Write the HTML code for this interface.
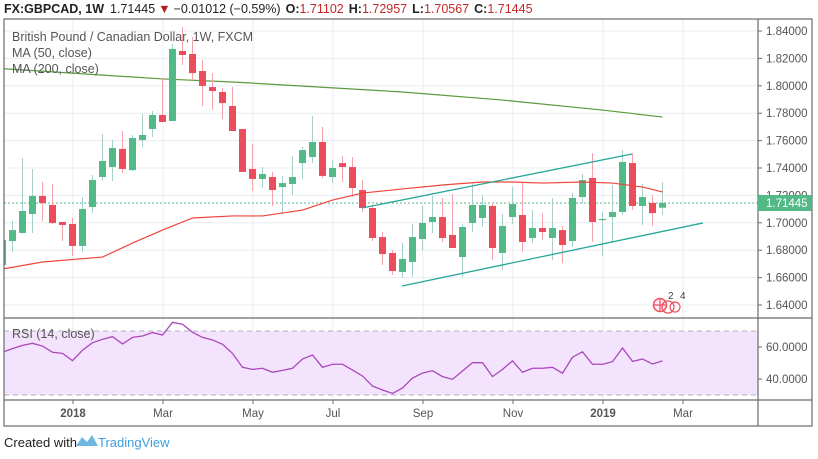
<!DOCTYPE html>
<html><head><meta charset="utf-8">
<style>
html,body{margin:0;padding:0;background:#fff;}
body{width:818px;height:454px;overflow:hidden;font-family:"Liberation Sans",sans-serif;}
svg text{font-family:"Liberation Sans",sans-serif;}
</style></head>
<body>
<svg id="chart" width="818" height="454" xmlns="http://www.w3.org/2000/svg">
  <defs>
    <clipPath id="paneClip"><rect x="4" y="19" width="754" height="299"/></clipPath>
    <clipPath id="rsiClip"><rect x="4" y="318" width="754" height="82"/></clipPath>
  </defs>
  <g id="grid"></g>
  <rect id="rsiBand" x="4" width="754" fill="#f3e3fd"/>
  <g id="rsiLevels"></g>
  <g id="mainMarks" clip-path="url(#paneClip)"></g>
  <g id="rsiMarks" clip-path="url(#rsiClip)"></g>
  <g id="frame">
    <rect x="4" y="19" width="808" height="407" fill="none" stroke="#6b6b6b" stroke-width="1.2"/>
    <line x1="758" y1="19" x2="758" y2="426" stroke="#6b6b6b" stroke-width="1.2"/>
    <line x1="4" y1="318" x2="812" y2="318" stroke="#6b6b6b" stroke-width="1.2"/>
    <line x1="4" y1="400" x2="812" y2="400" stroke="#6b6b6b" stroke-width="1.2"/>
  </g>
  <g id="axes"></g>
  <g>
    <text x="4" y="13" font-size="12.5" fill="#222"><tspan font-weight="bold">FX:GBPCAD, 1W</tspan><tspan dx="6">1.71445</tspan><tspan fill="#b71c1c" dx="3">▼</tspan><tspan dx="3">−0.01012 (−0.59%)</tspan><tspan dx="5" font-weight="bold">O:</tspan><tspan fill="#c62828">1.71102</tspan><tspan dx="5" font-weight="bold">H:</tspan><tspan fill="#c62828">1.72957</tspan><tspan dx="5" font-weight="bold">L:</tspan><tspan fill="#c62828">1.70567</tspan><tspan dx="5" font-weight="bold">C:</tspan><tspan fill="#c62828">1.71445</tspan></text>
  </g>
  <g font-size="12.5" fill="#555">
    <text x="12" y="41" fill="#555">British Pound / Canadian Dollar, 1W, FXCM</text>
    <text x="12" y="57">MA (50, close)</text>
    <text x="12" y="73">MA (200, close)</text>
    <text x="12" y="338">RSI (14, close)</text>
  </g>
  <g>
    <circle cx="660" cy="305" r="6.5" fill="#fde8ec" stroke="#ef5060" stroke-width="1.5"/>
    <circle cx="668" cy="307" r="6" fill="none" stroke="#ef5060" stroke-width="1.3"/>
    <circle cx="675" cy="307" r="5" fill="none" stroke="#ef5060" stroke-width="1.2"/>
    <line x1="654" y1="305" x2="666" y2="305" stroke="#ef5060" stroke-width="1.2"/>
    <line x1="660" y1="299" x2="660" y2="311" stroke="#ef5060" stroke-width="1.2"/>
    <text x="668" y="299" font-size="10" fill="#444">2</text>
    <text x="680" y="299" font-size="10" fill="#444">4</text>
  </g>
  <g>
    <text x="4" y="447" font-size="13" fill="#222">Created with</text>
    <path d="M76 446 L82 437 L87 442 L92 435 L98 446 Z" fill="#6fb7e3"/>
    <text x="98" y="447" font-size="13" fill="#3ca0e0">TradingView</text>
  </g>
</svg>
<script>
const opens  = [1.6692,1.6867,1.6926,1.7064,1.7196,1.7130,1.7006,1.6991,1.6831,1.7115,1.7334,1.7407,1.7539,1.7385,1.7604,1.7685,1.7787,1.7743,1.8254,1.8232,1.8108,1.7991,1.7955,1.7853,1.7685,1.7393,1.7320,1.7334,1.7261,1.7283,1.7436,1.7480,1.7590,1.7334,1.7436,1.7407,1.7239,1.7108,1.6896,1.6780,1.6641,1.6714,1.6882,1.7006,1.7042,1.6911,1.6750,1.6999,1.7035,1.7123,1.6780,1.7042,1.7057,1.6889,1.6962,1.6889,1.6947,1.6867,1.7188,1.7327,1.7020,1.7042,1.7079,1.7436,1.7123,1.7145,1.71102];
const highs  = [1.6889,1.7013,1.7473,1.7393,1.7298,1.7283,1.7006,1.7035,1.7188,1.7349,1.7648,1.7604,1.7670,1.7641,1.7794,1.7816,1.8057,1.8305,1.8429,1.8356,1.8188,1.8093,1.7984,1.7991,1.7685,1.7575,1.7407,1.7371,1.7342,1.7488,1.7553,1.7780,1.7699,1.7458,1.7488,1.7480,1.7312,1.7130,1.6933,1.6801,1.6852,1.6991,1.7123,1.7196,1.7181,1.7210,1.6991,1.7290,1.7203,1.7145,1.7064,1.7261,1.7298,1.7093,1.7071,1.7181,1.6977,1.7218,1.7356,1.7509,1.7079,1.7276,1.7531,1.7509,1.7283,1.7203,1.72957];
const lows   = [1.6670,1.6787,1.6918,1.6926,1.7013,1.6991,1.6867,1.6758,1.6787,1.7071,1.7305,1.7305,1.7363,1.7378,1.7553,1.7626,1.7736,1.7743,1.8152,1.8042,1.7853,1.7823,1.7758,1.7670,1.7371,1.7232,1.7254,1.7123,1.7064,1.7203,1.7320,1.7436,1.7327,1.7290,1.7298,1.7188,1.7079,1.6867,1.6692,1.6619,1.6597,1.6604,1.6801,1.6926,1.6860,1.6816,1.6604,1.6933,1.6969,1.6728,1.6655,1.6991,1.6787,1.6852,1.6874,1.6728,1.6706,1.6823,1.7145,1.6860,1.6758,1.6852,1.7057,1.7093,1.6984,1.6977,1.70567];
const closes = [1.6874,1.6947,1.7086,1.7196,1.7145,1.6999,1.6984,1.6831,1.7101,1.7312,1.7451,1.7546,1.7393,1.7619,1.7641,1.7787,1.7736,1.8269,1.8225,1.8093,1.7999,1.7962,1.7874,1.7670,1.7371,1.7320,1.7356,1.7239,1.7290,1.7334,1.7531,1.7590,1.7342,1.7400,1.7407,1.7254,1.7108,1.6889,1.6772,1.6648,1.6736,1.6896,1.6999,1.7042,1.6889,1.6816,1.6969,1.7130,1.7130,1.6816,1.6977,1.7137,1.6860,1.6962,1.6933,1.6962,1.6838,1.7181,1.7312,1.7006,1.7028,1.7079,1.7444,1.7123,1.7188,1.7071,1.71445];
const ma50Idx = [0,4,10,13,16,19,23,26,30,33,36,40,44,48,51,54,58,61,64,66];
const ma50    = [1.6663,1.6714,1.6750,1.6852,1.6947,1.7035,1.7050,1.7050,1.7093,1.7166,1.7217,1.7247,1.7276,1.7298,1.7298,1.7290,1.7298,1.7290,1.7261,1.7225];
const ma200Idx = [-1,16,23,40,50,60,66];
const ma200    = [1.8130,1.8050,1.8028,1.7955,1.7896,1.7823,1.7772];
const rsi = [56.7,59,61,62.3,60.6,56.7,56,51.5,58,62.7,64.8,66.5,61.9,66,66.9,69,67.5,75.4,74.2,69.2,66,64.4,61.7,56,47.3,46,46.7,44.2,45.4,46.7,52.5,55,47.3,49.2,49.2,45.6,41.9,35.6,33.1,31,34.4,40.6,43.7,45.2,41.5,39.8,45,50.2,50.2,41.5,46,51.3,44.2,46.7,46.7,47.3,43.6,53.6,57,49.2,49.2,50.8,59.4,51,52.5,49.4,51.3];
const upperTrend = [[35.95,1.7108],[62.95,1.7502]];
const lowerTrend = [[39.95,1.6539],[70.05,1.6999]];
const priceTicks = [1.64,1.66,1.68,1.70,1.72,1.74,1.76,1.78,1.80,1.82,1.84];
const priceTickLabels = ["1.64000","1.66000","1.68000","1.70000","1.72000","1.74000","1.76000","1.78000","1.80000","1.82000","1.84000"];
const rsiTicks = [40,60];
const rsiTickLabels = ["40.0000","60.0000"];
const timeIdx = [7.05,16.05,25.05,33.05,42.05,51.05,60.05,68.05];
const timeLabels = ["2018","Mar","May","Jul","Sep","Nov","2019","Mar"];
const timeBold = [true,false,false,false,false,false,true,false];
const lastPrice = 1.71445;

const NS="http://www.w3.org/2000/svg";
function xAt(i){return 2.5+10*i;}
function yP(p){return 31+(1.84-p)/0.02*27.4;}
function yR(v){return 347+(60-v)*1.6;}
function mk(tag,attrs,parent){const e=document.createElementNS(NS,tag);for(const k in attrs)e.setAttribute(k,attrs[k]);parent.appendChild(e);return e;}

const grid=document.getElementById('grid');
priceTicks.forEach(p=>{const l=mk('line',{x1:4,x2:758,y1:yP(p),y2:yP(p),stroke:'#e8edf2','stroke-width':1},grid);

});
rsiTicks.forEach(v=>{const l=mk('line',{x1:4,x2:758,y1:yR(v),y2:yR(v),stroke:'#e3dcef','stroke-width':1},grid);

});
timeIdx.forEach(i=>{const l=mk('line',{x1:xAt(i),x2:xAt(i),y1:19,y2:400,stroke:'#e8edf2','stroke-width':1},grid);

});

const band=document.getElementById('rsiBand');
band.setAttribute('y',yR(70));band.setAttribute('height',yR(30)-yR(70));
const lv=document.getElementById('rsiLevels');
[70,30].forEach(v=>{const l=mk('line',{x1:4,x2:758,y1:yR(v),y2:yR(v),stroke:'#b0b0b8','stroke-width':1,'stroke-dasharray':'5,4'},lv);

});

const mm=document.getElementById('mainMarks');
const dl=mk('line',{x1:4,x2:758,y1:yP(lastPrice),y2:yP(lastPrice),stroke:'#53b987','stroke-width':1,'stroke-dasharray':'2,2'},mm);



function polyPts(idx,vals,yf){return idx.map((i,k)=>xAt(i)+','+yf(vals[k])).join(' ');}
const m200=mk('polyline',{points:polyPts(ma200Idx,ma200,yP),fill:'none',stroke:'#5a9a3c','stroke-width':1.2},mm);



for(let i=0;i<opens.length;i++){
  const up=closes[i]>=opens[i];
  const x=xAt(i);
  const w=mk('line',{x1:x,x2:x,y1:yP(highs[i]),y2:yP(lows[i]),stroke:up?'#a8cfc8':'#f5a3ac','stroke-width':1},mm);
  
  
  const top=yP(Math.max(opens[i],closes[i])),bot=yP(Math.min(opens[i],closes[i]));
  const b=mk('rect',{x:x-3.5,y:top,width:7,height:Math.max(1.2,bot-top),fill:up?'#53b987':'#eb4d5c'},mm);
  
  
}
const m50=mk('polyline',{points:polyPts(ma50Idx,ma50,yP),fill:'none',stroke:'#f0443a','stroke-width':1.2},mm);


[upperTrend,lowerTrend].forEach((t,k)=>{const l=mk('line',{x1:xAt(t[0][0]),y1:yP(t[0][1]),x2:xAt(t[1][0]),y2:yP(t[1][1]),stroke:'#26a69a','stroke-width':1.3},mm);

});

const rm=document.getElementById('rsiMarks');
const rl=mk('polyline',{points:rsi.map((v,i)=>xAt(i)+','+yR(v)).join(' '),fill:'none',stroke:'#ab47bc','stroke-width':1.3},rm);



const ax=document.getElementById('axes');
priceTicks.forEach((p,k)=>{
  const y=yP(p);
  const t=mk('line',{x1:758,x2:762,y1:y,y2:y,stroke:'#6b6b6b'},ax);
  
  
  if(y<20)return;
  const tx=mk('text',{x:766,y:y+4,'font-size':11.5,fill:'#555'},ax);tx.textContent=priceTickLabels[k];
  
  
});
rsiTicks.forEach((v,k)=>{
  const y=yR(v);
  const t=mk('line',{x1:758,x2:762,y1:y,y2:y,stroke:'#6b6b6b'},ax);
  
  
  const tx=mk('text',{x:766,y:y+4,'font-size':11.5,fill:'#555'},ax);tx.textContent=rsiTickLabels[k];
  
  
});
timeIdx.forEach((i,k)=>{
  const x=xAt(i);
  const t=mk('line',{x1:x,x2:x,y1:400,y2:404,stroke:'#6b6b6b'},ax);
  
  
  const tx=mk('text',{x:x,y:417,'font-size':11.5,fill:'#555','text-anchor':'middle','font-weight':timeBold[k]?'bold':'normal'},ax);tx.textContent=timeLabels[k];
  
  
});
const ly=yP(lastPrice);
const lb=mk('rect',{x:758,y:ly-8,width:54,height:16,fill:'#53b987'},ax);


const lt=mk('text',{x:766,y:ly+4,'font-size':11.5,fill:'#fff'},ax);lt.textContent="1.71445";


</script>
</body></html>
